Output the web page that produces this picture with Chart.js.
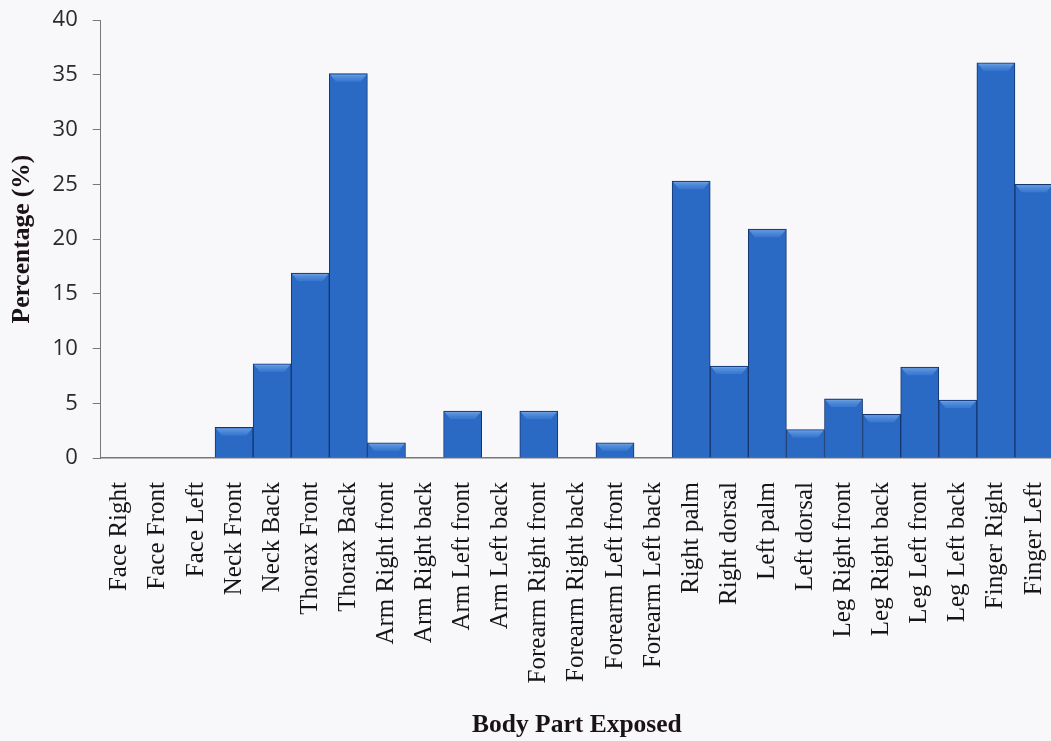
<!DOCTYPE html>
<html>
<head>
<meta charset="utf-8">
<script src="https://cdn.jsdelivr.net/npm/chart.js@4.4.0/dist/chart.umd.min.js"></script>
<style>
  html, body { margin: 0; padding: 0; background: #f8f8fa; overflow: hidden; }
  #wrap { width: 1051px; height: 741px; position: relative; overflow: hidden; }
  canvas { display: block; }
</style>
</head>
<body>
<div id="wrap"><canvas id="c" width="1088" height="741"></canvas></div>
<script>
const categories = [
  "Face Right", "Face Front", "Face Left", "Neck Front", "Neck Back",
  "Thorax Front", "Thorax Back", "Arm Right front", "Arm Right back",
  "Arm Left front", "Arm Left back", "Forearm Right front", "Forearm Right back",
  "Forearm Left front", "Forearm Left back", "Right palm", "Right dorsal",
  "Left palm", "Left dorsal", "Leg Right front", "Leg Right back",
  "Leg Left front", "Leg Left back", "Finger Right", "Finger Left"
];
const percentages = [
  0, 0, 0, 2.8, 8.6,
  16.9, 35.1, 1.4, 0,
  4.3, 0, 4.3, 0,
  1.4, 0, 25.3, 8.4,
  20.9, 2.6, 5.4, 4.0,
  8.3, 5.3, 36.1, 25.0
];
const yTicks = [0, 5, 10, 15, 20, 25, 30, 35, 40];
const xTitle = "Body Part Exposed";
const yTitle = "Percentage (%)";

function barFill(ctx) {
  const chart = ctx.chart;
  const el = ctx.element;
  if (!chart.chartArea || !el || !el.width) return '#2a69c4';
  const x = el.x, w = el.width;
  const g = chart.ctx.createLinearGradient(x - w / 2, 0, x + w / 2, 0);
  g.addColorStop(0, '#1a4791');
  g.addColorStop(0.12, '#2560b8');
  g.addColorStop(0.5, '#2d6dcb');
  g.addColorStop(0.88, '#2560b8');
  g.addColorStop(1, '#1a4791');
  return g;
}

const bevelPlugin = {
  id: 'bevel',
  afterDatasetsDraw(chart) {
    const c = chart.ctx;
    const meta = chart.getDatasetMeta(0);
    meta.data.forEach((bar, i) => {
      if (!percentages[i]) return;
      const { x, y, base, width } = bar.getProps(['x', 'y', 'base', 'width'], true);
      const l = x - width / 2 + 1, r = x + width / 2 - 1;
      const b = Math.min(7, (base - y) - 1);
      if (b <= 0) return;
      c.save();
      const g = c.createLinearGradient(0, y, 0, y + b);
      g.addColorStop(0, '#8fb8ea');
      g.addColorStop(0.3, '#5b93dc');
      g.addColorStop(1, '#3a7ad2');
      c.fillStyle = g;
      c.beginPath();
      c.moveTo(l, y + 1);
      c.lineTo(r, y + 1);
      c.lineTo(r - b * 0.8, y + 1 + b);
      c.lineTo(l + b * 0.8, y + 1 + b);
      c.closePath();
      c.fill();
      c.restore();
    });
  }
};

new Chart(document.getElementById('c'), {
  type: 'bar',
  data: {
    labels: categories,
    datasets: [{
      data: percentages,
      backgroundColor: barFill,
      borderColor: '#143670',
      borderWidth: 1,
      barPercentage: 1.0,
      categoryPercentage: 1.0
    }]
  },
  plugins: [bevelPlugin],
  options: {
    responsive: false,
    animation: false,
    events: [],
    layout: { padding: { top: 20, right: 0, left: 7, bottom: 0 } },
    plugins: { legend: { display: false }, tooltip: { enabled: false } },
    scales: {
      x: {
        grid: { display: false, drawTicks: false },
        border: { display: true, color: '#777', width: 1.5 },
        ticks: {
          color: '#151515',
          font: { family: '"Liberation Serif", "Times New Roman", serif', size: 25 },
          minRotation: 90, maxRotation: 90, autoSkip: false, padding: 24
        },
        title: {
          display: true, text: xTitle, color: '#1a1214',
          font: { family: '"Liberation Serif", "Times New Roman", serif', size: 25.5, weight: 'bold' },
          padding: { top: 3, bottom: 0 }
        }
      },
      y: {
        min: 0, max: 40,
        afterBuildTicks(axis) { axis.ticks = yTicks.map(v => ({ value: v })); },
        afterFit(axis) { axis.paddingTop = 0; },
        grid: { display: true, drawOnChartArea: false, drawTicks: true, tickLength: 8, color: '#777' },
        border: { display: true, color: '#777', width: 1 },
        ticks: {
          color: '#2a2a2a',
          font: { family: '"Open Sans", "Liberation Sans", sans-serif', size: 22 },
          padding: 15
        },
        title: {
          display: true, text: yTitle, color: '#1a1214',
          font: { family: '"Liberation Serif", "Times New Roman", serif', size: 25.5, weight: 'bold' },
          padding: { top: 0, bottom: 0 }
        }
      }
    }
  }
});
</script>
</body>
</html>
